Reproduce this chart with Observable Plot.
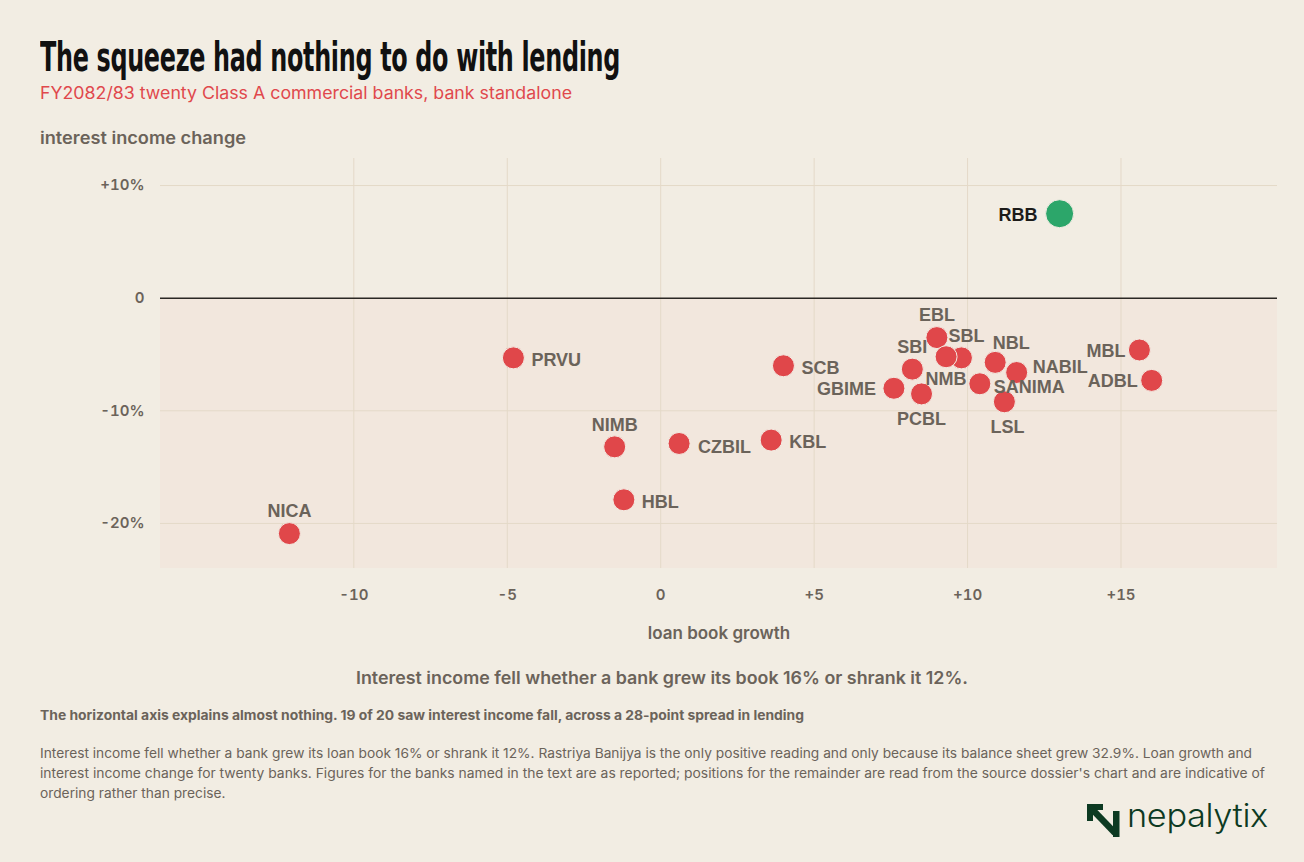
<!DOCTYPE html>
<html>
<head>
<meta charset="utf-8">
<script src="https://cdn.jsdelivr.net/npm/d3@7"></script>
<script src="https://cdn.jsdelivr.net/npm/@observablehq/plot@0.6"></script>
<style>
  html, body { margin: 0; padding: 0; background: #f2ede3; }
  body { width: 1304px; height: 862px; position: relative; overflow: hidden; font-family: Inter, "Noto Sans", sans-serif; color: #6b635a; }
  .abs { position: absolute; white-space: nowrap; line-height: 1; }
  #title { left: 40px; top: 37px; font-family: "Liberation Sans Narrow", "DejaVu Sans Condensed", sans-serif; font-weight: 700; font-size: 40px; color: #111; letter-spacing: -0.5px; }
  #subtitle { left: 40px; top: 85px; font-size: 17px; color: #e0484c; font-weight: 400; }
  #ylabel { left: 40px; top: 130px; font-size: 17px; font-weight: 600; color: #6b635a; }
  #chart { position: absolute; left: 0; top: 150px; }
  #note { left: 356px; top: 670px; font-size: 17px; font-weight: 600; color: #6b635a; }
  #kicker { left: 40px; top: 709px; font-size: 13px; font-weight: 700; color: #6b635a; }
  .para { left: 40px; font-size: 13px; font-weight: 400; color: #6b635a; }
  #logo { left: 1087px; top: 804px; }
  #logotext { left: 1127px; top: 800px; font-size: 32px; font-weight: 300; color: #0d3a22; letter-spacing: -0.3px; }
</style>
</head>
<body>
<div id="title" class="abs">The squeeze had nothing to do with lending</div>
<div id="subtitle" class="abs">FY2082/83 twenty Class A commercial banks, bank standalone</div>
<div id="ylabel" class="abs">interest income change</div>
<div id="chart"></div>
<div id="note" class="abs">Interest income fell whether a bank grew its book 16% or shrank it 12%.</div>
<div id="kicker" class="abs">The horizontal axis explains almost nothing. 19 of 20 saw interest income fall, across a 28-point spread in lending</div>
<div id="p1" class="abs para" style="top:747px">Interest income fell whether a bank grew its loan book 16% or shrank it 12%. Rastriya Banijya is the only positive reading and only because its balance sheet grew 32.9%. Loan growth and</div>
<div id="p2" class="abs para" style="top:767px">interest income change for twenty banks. Figures for the banks named in the text are as reported; positions for the remainder are read from the source dossier's chart and are indicative of</div>
<div id="p3" class="abs para" style="top:787px">ordering rather than precise.</div>
<svg id="logo" class="abs" width="34" height="34" viewBox="0 0 34 34">
  <path d="M0 0 H16 V6 H6 V17 H0 Z" fill="#0d3a22"/>
  <line x1="3" y1="3" x2="28" y2="29" stroke="#0d3a22" stroke-width="6.5"/>
  <rect x="26" y="7" width="6.5" height="26" fill="#0d3a22"/>
</svg>
<div id="logotext" class="abs">nepalytix</div>

<script>
// ---- data ----
const banks        = ["RBB", "PRVU", "SCB", "NIMB", "CZBIL", "KBL", "HBL", "NICA", "EBL", "SBL", "NMB", "SBI", "GBIME", "PCBL", "NBL", "NABIL", "SANIMA", "LSL", "MBL", "ADBL"];
const loanGrowth   = [13.0, -4.8, 4.0, -1.5, 0.6, 3.6, -1.2, -12.1, 9.0, 9.8, 9.3, 8.2, 7.6, 8.5, 10.9, 11.6, 10.4, 11.2, 15.6, 16.0];
const incomeChange = [7.5, -5.3, -6.0, -13.2, -12.9, -12.6, -17.9, -20.9, -3.5, -5.3, -5.2, -6.3, -8.0, -8.5, -5.7, -6.6, -7.6, -9.2, -4.6, -7.3];
const xTicks = [-10, -5, 0, 5, 10, 15];
const yTicks = [-20, -10, 0, 10];
const labelSide = {RBB: "left", PRVU: "right", SCB: "right", NIMB: "top", CZBIL: "right", KBL: "right", HBL: "right", NICA: "top",
  EBL: "top", SBL: "top", NMB: "bottom", SBI: "top", GBIME: "left", PCBL: "bottom", NBL: "top", NABIL: "right", SANIMA: "right", LSL: "bottom", MBL: "left", ADBL: "left"};
// small label nudges (pixels) where labels crowd
const labelNudge = {NABIL: [-2, -7], SANIMA: [-4, 1], NMB: [0, -3], CZBIL: [1, 2], MBL: [2, 0], ADBL: [2, 0], GBIME: [-2, 0], RBB: [0, 1],
  SBL: [5, 0], NBL: [16, 3], LSL: [3, 0]};
const xDomain = [-16.3, 20.1];
const yDomain = [-24, 12.4];

const rows = banks.map((b, i) => {
  const [ndx, ndy] = labelNudge[b] || [0, 0];
  return {bank: b, x: loanGrowth[i], y: incomeChange[i], side: labelSide[b], up: incomeChange[i] > 0, ndx, ndy};
});

const RED = "#e0474a", GREEN = "#2ca66a", INK = "#6b635a", GRID = "#e4d9c8";
const signed = d => d > 0 ? "+" + d : d < 0 ? "-" + Math.abs(d) : "0";
const pct = d => d === 0 ? "0" : signed(d) + "%";

const labelFont = {fontFamily: "'Liberation Sans', Arial, sans-serif", fontWeight: 700, fontSize: 18};
const side = s => rows.filter(r => r.side === s);

// one text mark per placement side; nudges applied through a per-row render offset
function labels(data, base) {
  return Plot.text(data, {
    x: "x", y: "y", text: "bank", ...labelFont, ...base,
    render(index, scales, values, dims, context, next) {
      const g = next(index, scales, values, dims, context);
      const texts = g.querySelectorAll("text");
      Array.from(index).forEach((i, k) => {
        const t = texts[k];
        if (!t) return;
        const d = data[i];
        const tr = t.getAttribute("transform") || "";
        t.setAttribute("transform", tr + ` translate(${d.ndx},${d.ndy})`);
      });
      return g;
    }
  });
}

const chart = Plot.plot({
  width: 1304, height: 495,
  marginLeft: 160, marginRight: 27, marginTop: 8, marginBottom: 77,
  style: {background: "transparent", fontFamily: "Inter, 'Noto Sans', sans-serif", color: INK, overflow: "visible"},
  x: {domain: xDomain},
  y: {domain: yDomain},
  marks: [
    Plot.rect([0], {x1: xDomain[0], x2: xDomain[1], y1: yDomain[0], y2: 0, fill: "#f2e7dd"}),
    Plot.gridX(xTicks, {stroke: GRID, strokeOpacity: 1, strokeWidth: 1}),
    Plot.gridY(yTicks.filter(d => d !== 0), {stroke: GRID, strokeOpacity: 1, strokeWidth: 1}),
    Plot.ruleY([0], {stroke: "#2a2824", strokeWidth: 1.5}),
    Plot.axisX(xTicks, {tickSize: 0, tickPadding: 21, tickFormat: signed, fontSize: 15, fontWeight: 600, fill: INK,
      label: "loan book growth", labelAnchor: "center", labelArrow: "none", labelOffset: 70}),
    Plot.axisY(yTicks, {tickSize: 0, tickPadding: 16, tickFormat: pct, fontSize: 15, fontWeight: 600, fill: INK, label: null}),
    Plot.dot(rows.filter(r => !r.up), {x: "x", y: "y", r: 11, fill: RED, stroke: "#f3ece3", strokeWidth: 1}),
    Plot.dot(rows.filter(r => r.up), {x: "x", y: "y", r: 14, fill: GREEN, stroke: "#f3ece3", strokeWidth: 1}),
    labels(side("right"), {textAnchor: "start", dx: 18, dy: 2, fill: INK}),
    labels(side("left").filter(r => !r.up), {textAnchor: "end", dx: -16, dy: 1, fill: INK}),
    labels(side("left").filter(r => r.up), {textAnchor: "end", dx: -22, dy: 1, fill: "#1c1b19"}),
    labels(side("top"), {textAnchor: "middle", dy: -22, fill: INK}),
    labels(side("bottom"), {textAnchor: "middle", dy: 25, fill: INK})
  ]
});
chart.querySelectorAll("[aria-label='x-axis label']").forEach(t => { t.setAttribute("font-size", 17); t.setAttribute("font-weight", 600); });
document.getElementById("chart").appendChild(chart);

// fit text widths to the reference layout
function fit(id, w) {
  const el = document.getElementById(id);
  el.style.transformOrigin = "0 0";
  const cw = el.getBoundingClientRect().width;
  const s = w / cw;
  el.style.transform = `scaleX(${s})`;
  return s;
}
fit("title", 580);
fit("subtitle", 532);
fit("ylabel", 206);
fit("note", 612);
fit("kicker", 764);
const s1 = fit("p1", 1212);
fit("p2", 1225);
document.getElementById("p3").style.transformOrigin = "0 0";
document.getElementById("p3").style.transform = `scaleX(${s1})`;
fit("logotext", 141);
</script>
</body>
</html>
